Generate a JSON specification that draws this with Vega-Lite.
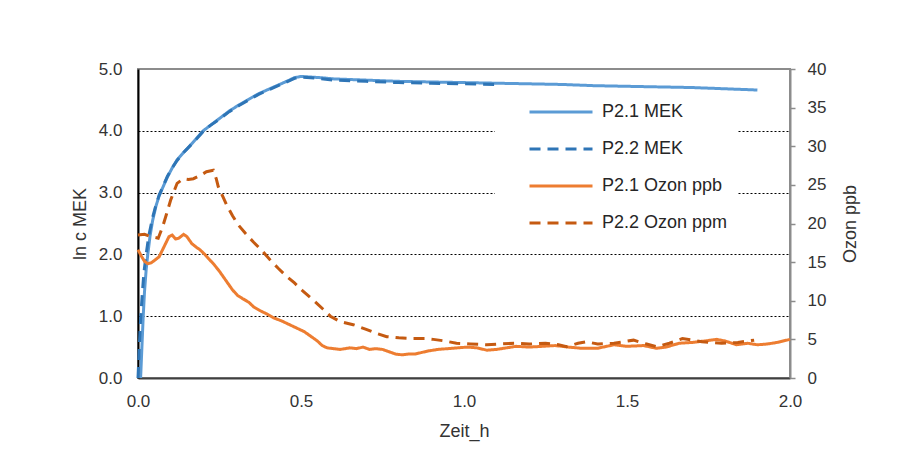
{
  "$schema": "https://vega.github.io/schema/vega-lite/v6.json",
  "autosize": {"type": "none"},
  "width": 652,
  "height": 309,
  "padding": {"left": 138, "top": 69, "right": 112, "bottom": 81},
  "background": "white",
  "config": {
    "font": "Liberation Sans",
    "view": {"stroke": "#8c8c8c", "strokeWidth": 2},
    "axis": {"labelFont": "Liberation Sans", "titleFont": "Liberation Sans", "labelColor": "#333333", "titleColor": "#333333", "titleFontWeight": "normal", "labelFontSize": 17, "titleFontSize": 18},
    "legend": {"labelFont": "Liberation Sans"}
  },
  "datasets": {
    "mek": [
      {"t": 0.008, "v": 0, "s": "P2.1 MEK"},
      {"t": 0.012, "v": 0.5, "s": "P2.1 MEK"},
      {"t": 0.016, "v": 1.0, "s": "P2.1 MEK"},
      {"t": 0.02, "v": 1.4, "s": "P2.1 MEK"},
      {"t": 0.025, "v": 1.75, "s": "P2.1 MEK"},
      {"t": 0.03, "v": 2.0, "s": "P2.1 MEK"},
      {"t": 0.037, "v": 2.3, "s": "P2.1 MEK"},
      {"t": 0.045, "v": 2.55, "s": "P2.1 MEK"},
      {"t": 0.055, "v": 2.78, "s": "P2.1 MEK"},
      {"t": 0.065, "v": 2.95, "s": "P2.1 MEK"},
      {"t": 0.075, "v": 3.07, "s": "P2.1 MEK"},
      {"t": 0.09, "v": 3.25, "s": "P2.1 MEK"},
      {"t": 0.105, "v": 3.4, "s": "P2.1 MEK"},
      {"t": 0.12, "v": 3.53, "s": "P2.1 MEK"},
      {"t": 0.14, "v": 3.65, "s": "P2.1 MEK"},
      {"t": 0.16, "v": 3.76, "s": "P2.1 MEK"},
      {"t": 0.18, "v": 3.88, "s": "P2.1 MEK"},
      {"t": 0.2, "v": 4.0, "s": "P2.1 MEK"},
      {"t": 0.22, "v": 4.08, "s": "P2.1 MEK"},
      {"t": 0.25, "v": 4.2, "s": "P2.1 MEK"},
      {"t": 0.28, "v": 4.32, "s": "P2.1 MEK"},
      {"t": 0.31, "v": 4.42, "s": "P2.1 MEK"},
      {"t": 0.34, "v": 4.51, "s": "P2.1 MEK"},
      {"t": 0.37, "v": 4.6, "s": "P2.1 MEK"},
      {"t": 0.4, "v": 4.67, "s": "P2.1 MEK"},
      {"t": 0.43, "v": 4.74, "s": "P2.1 MEK"},
      {"t": 0.46, "v": 4.81, "s": "P2.1 MEK"},
      {"t": 0.48, "v": 4.86, "s": "P2.1 MEK"},
      {"t": 0.5, "v": 4.88, "s": "P2.1 MEK"},
      {"t": 0.53, "v": 4.87, "s": "P2.1 MEK"},
      {"t": 0.56, "v": 4.86, "s": "P2.1 MEK"},
      {"t": 0.6, "v": 4.84, "s": "P2.1 MEK"},
      {"t": 0.65, "v": 4.83, "s": "P2.1 MEK"},
      {"t": 0.7, "v": 4.82, "s": "P2.1 MEK"},
      {"t": 0.8, "v": 4.8, "s": "P2.1 MEK"},
      {"t": 0.9, "v": 4.79, "s": "P2.1 MEK"},
      {"t": 1.0, "v": 4.78, "s": "P2.1 MEK"},
      {"t": 1.1, "v": 4.77, "s": "P2.1 MEK"},
      {"t": 1.2, "v": 4.76, "s": "P2.1 MEK"},
      {"t": 1.3, "v": 4.75, "s": "P2.1 MEK"},
      {"t": 1.4, "v": 4.73, "s": "P2.1 MEK"},
      {"t": 1.5, "v": 4.72, "s": "P2.1 MEK"},
      {"t": 1.6, "v": 4.71, "s": "P2.1 MEK"},
      {"t": 1.7, "v": 4.7, "s": "P2.1 MEK"},
      {"t": 1.8, "v": 4.68, "s": "P2.1 MEK"},
      {"t": 1.9, "v": 4.66, "s": "P2.1 MEK"},
      {"t": 0.0, "v": 0, "s": "P2.2 MEK"},
      {"t": 0.004, "v": 0.5, "s": "P2.2 MEK"},
      {"t": 0.008, "v": 0.95, "s": "P2.2 MEK"},
      {"t": 0.013, "v": 1.35, "s": "P2.2 MEK"},
      {"t": 0.018, "v": 1.7, "s": "P2.2 MEK"},
      {"t": 0.025, "v": 2.0, "s": "P2.2 MEK"},
      {"t": 0.033, "v": 2.3, "s": "P2.2 MEK"},
      {"t": 0.045, "v": 2.6, "s": "P2.2 MEK"},
      {"t": 0.055, "v": 2.8, "s": "P2.2 MEK"},
      {"t": 0.065, "v": 2.96, "s": "P2.2 MEK"},
      {"t": 0.075, "v": 3.08, "s": "P2.2 MEK"},
      {"t": 0.09, "v": 3.26, "s": "P2.2 MEK"},
      {"t": 0.105, "v": 3.4, "s": "P2.2 MEK"},
      {"t": 0.12, "v": 3.52, "s": "P2.2 MEK"},
      {"t": 0.14, "v": 3.65, "s": "P2.2 MEK"},
      {"t": 0.16, "v": 3.76, "s": "P2.2 MEK"},
      {"t": 0.18, "v": 3.87, "s": "P2.2 MEK"},
      {"t": 0.2, "v": 3.99, "s": "P2.2 MEK"},
      {"t": 0.22, "v": 4.08, "s": "P2.2 MEK"},
      {"t": 0.25, "v": 4.19, "s": "P2.2 MEK"},
      {"t": 0.28, "v": 4.31, "s": "P2.2 MEK"},
      {"t": 0.31, "v": 4.41, "s": "P2.2 MEK"},
      {"t": 0.34, "v": 4.5, "s": "P2.2 MEK"},
      {"t": 0.37, "v": 4.59, "s": "P2.2 MEK"},
      {"t": 0.4, "v": 4.66, "s": "P2.2 MEK"},
      {"t": 0.43, "v": 4.73, "s": "P2.2 MEK"},
      {"t": 0.46, "v": 4.8, "s": "P2.2 MEK"},
      {"t": 0.48, "v": 4.85, "s": "P2.2 MEK"},
      {"t": 0.5, "v": 4.87, "s": "P2.2 MEK"},
      {"t": 0.55, "v": 4.85, "s": "P2.2 MEK"},
      {"t": 0.6, "v": 4.82, "s": "P2.2 MEK"},
      {"t": 0.7, "v": 4.8, "s": "P2.2 MEK"},
      {"t": 0.8, "v": 4.78, "s": "P2.2 MEK"},
      {"t": 0.9, "v": 4.77, "s": "P2.2 MEK"},
      {"t": 1.0, "v": 4.76, "s": "P2.2 MEK"},
      {"t": 1.1, "v": 4.75, "s": "P2.2 MEK"}
    ],
    "ozon": [
      {"t": 0.0, "v": 16.6, "s": "P2.1 Ozon ppb"},
      {"t": 0.01, "v": 15.8, "s": "P2.1 Ozon ppb"},
      {"t": 0.02, "v": 15.1, "s": "P2.1 Ozon ppb"},
      {"t": 0.03, "v": 14.8, "s": "P2.1 Ozon ppb"},
      {"t": 0.04, "v": 14.9, "s": "P2.1 Ozon ppb"},
      {"t": 0.05, "v": 15.2, "s": "P2.1 Ozon ppb"},
      {"t": 0.065, "v": 15.7, "s": "P2.1 Ozon ppb"},
      {"t": 0.08, "v": 17.0, "s": "P2.1 Ozon ppb"},
      {"t": 0.095, "v": 18.3, "s": "P2.1 Ozon ppb"},
      {"t": 0.105, "v": 18.5, "s": "P2.1 Ozon ppb"},
      {"t": 0.115, "v": 18.0, "s": "P2.1 Ozon ppb"},
      {"t": 0.125, "v": 18.1, "s": "P2.1 Ozon ppb"},
      {"t": 0.14, "v": 18.6, "s": "P2.1 Ozon ppb"},
      {"t": 0.15, "v": 18.3, "s": "P2.1 Ozon ppb"},
      {"t": 0.165, "v": 17.4, "s": "P2.1 Ozon ppb"},
      {"t": 0.18, "v": 16.9, "s": "P2.1 Ozon ppb"},
      {"t": 0.19, "v": 16.6, "s": "P2.1 Ozon ppb"},
      {"t": 0.205, "v": 16.0, "s": "P2.1 Ozon ppb"},
      {"t": 0.22, "v": 15.3, "s": "P2.1 Ozon ppb"},
      {"t": 0.235, "v": 14.6, "s": "P2.1 Ozon ppb"},
      {"t": 0.25, "v": 13.8, "s": "P2.1 Ozon ppb"},
      {"t": 0.27, "v": 12.6, "s": "P2.1 Ozon ppb"},
      {"t": 0.29, "v": 11.4, "s": "P2.1 Ozon ppb"},
      {"t": 0.305, "v": 10.7, "s": "P2.1 Ozon ppb"},
      {"t": 0.32, "v": 10.3, "s": "P2.1 Ozon ppb"},
      {"t": 0.34, "v": 9.8, "s": "P2.1 Ozon ppb"},
      {"t": 0.355, "v": 9.2, "s": "P2.1 Ozon ppb"},
      {"t": 0.375, "v": 8.7, "s": "P2.1 Ozon ppb"},
      {"t": 0.395, "v": 8.3, "s": "P2.1 Ozon ppb"},
      {"t": 0.415, "v": 7.8, "s": "P2.1 Ozon ppb"},
      {"t": 0.44, "v": 7.4, "s": "P2.1 Ozon ppb"},
      {"t": 0.465, "v": 6.9, "s": "P2.1 Ozon ppb"},
      {"t": 0.49, "v": 6.4, "s": "P2.1 Ozon ppb"},
      {"t": 0.51, "v": 6.0, "s": "P2.1 Ozon ppb"},
      {"t": 0.53, "v": 5.4, "s": "P2.1 Ozon ppb"},
      {"t": 0.55, "v": 4.8, "s": "P2.1 Ozon ppb"},
      {"t": 0.565, "v": 4.2, "s": "P2.1 Ozon ppb"},
      {"t": 0.58, "v": 3.9, "s": "P2.1 Ozon ppb"},
      {"t": 0.6, "v": 3.8, "s": "P2.1 Ozon ppb"},
      {"t": 0.62, "v": 3.7, "s": "P2.1 Ozon ppb"},
      {"t": 0.65, "v": 3.9, "s": "P2.1 Ozon ppb"},
      {"t": 0.67, "v": 3.8, "s": "P2.1 Ozon ppb"},
      {"t": 0.69, "v": 4.0, "s": "P2.1 Ozon ppb"},
      {"t": 0.71, "v": 3.7, "s": "P2.1 Ozon ppb"},
      {"t": 0.73, "v": 3.8, "s": "P2.1 Ozon ppb"},
      {"t": 0.75, "v": 3.7, "s": "P2.1 Ozon ppb"},
      {"t": 0.77, "v": 3.4, "s": "P2.1 Ozon ppb"},
      {"t": 0.79, "v": 3.1, "s": "P2.1 Ozon ppb"},
      {"t": 0.81, "v": 3.0, "s": "P2.1 Ozon ppb"},
      {"t": 0.83, "v": 3.1, "s": "P2.1 Ozon ppb"},
      {"t": 0.85, "v": 3.1, "s": "P2.1 Ozon ppb"},
      {"t": 0.87, "v": 3.3, "s": "P2.1 Ozon ppb"},
      {"t": 0.89, "v": 3.5, "s": "P2.1 Ozon ppb"},
      {"t": 0.92, "v": 3.7, "s": "P2.1 Ozon ppb"},
      {"t": 0.95, "v": 3.8, "s": "P2.1 Ozon ppb"},
      {"t": 0.98, "v": 3.9, "s": "P2.1 Ozon ppb"},
      {"t": 1.01, "v": 4.0, "s": "P2.1 Ozon ppb"},
      {"t": 1.04, "v": 3.9, "s": "P2.1 Ozon ppb"},
      {"t": 1.07, "v": 3.6, "s": "P2.1 Ozon ppb"},
      {"t": 1.1, "v": 3.7, "s": "P2.1 Ozon ppb"},
      {"t": 1.13, "v": 3.9, "s": "P2.1 Ozon ppb"},
      {"t": 1.16, "v": 4.1, "s": "P2.1 Ozon ppb"},
      {"t": 1.2, "v": 4.0, "s": "P2.1 Ozon ppb"},
      {"t": 1.24, "v": 4.1, "s": "P2.1 Ozon ppb"},
      {"t": 1.28, "v": 4.2, "s": "P2.1 Ozon ppb"},
      {"t": 1.32, "v": 4.0, "s": "P2.1 Ozon ppb"},
      {"t": 1.36, "v": 3.85, "s": "P2.1 Ozon ppb"},
      {"t": 1.41, "v": 3.85, "s": "P2.1 Ozon ppb"},
      {"t": 1.46, "v": 4.3, "s": "P2.1 Ozon ppb"},
      {"t": 1.5, "v": 4.1, "s": "P2.1 Ozon ppb"},
      {"t": 1.55, "v": 4.2, "s": "P2.1 Ozon ppb"},
      {"t": 1.59, "v": 3.85, "s": "P2.1 Ozon ppb"},
      {"t": 1.62, "v": 4.0, "s": "P2.1 Ozon ppb"},
      {"t": 1.66, "v": 4.5, "s": "P2.1 Ozon ppb"},
      {"t": 1.7, "v": 4.6, "s": "P2.1 Ozon ppb"},
      {"t": 1.74, "v": 4.8, "s": "P2.1 Ozon ppb"},
      {"t": 1.775, "v": 5.0, "s": "P2.1 Ozon ppb"},
      {"t": 1.8, "v": 4.8, "s": "P2.1 Ozon ppb"},
      {"t": 1.836, "v": 4.3, "s": "P2.1 Ozon ppb"},
      {"t": 1.87, "v": 4.5, "s": "P2.1 Ozon ppb"},
      {"t": 1.9, "v": 4.3, "s": "P2.1 Ozon ppb"},
      {"t": 1.93, "v": 4.4, "s": "P2.1 Ozon ppb"},
      {"t": 1.96, "v": 4.6, "s": "P2.1 Ozon ppb"},
      {"t": 2.0, "v": 5.0, "s": "P2.1 Ozon ppb"},
      {"t": 0.0, "v": 18.5, "s": "P2.2 Ozon ppm"},
      {"t": 0.02, "v": 18.6, "s": "P2.2 Ozon ppm"},
      {"t": 0.04, "v": 18.3, "s": "P2.2 Ozon ppm"},
      {"t": 0.062, "v": 18.1, "s": "P2.2 Ozon ppm"},
      {"t": 0.075, "v": 19.5, "s": "P2.2 Ozon ppm"},
      {"t": 0.088, "v": 21.3, "s": "P2.2 Ozon ppm"},
      {"t": 0.1, "v": 23.0, "s": "P2.2 Ozon ppm"},
      {"t": 0.108, "v": 23.9, "s": "P2.2 Ozon ppm"},
      {"t": 0.12, "v": 25.2, "s": "P2.2 Ozon ppm"},
      {"t": 0.139, "v": 25.8, "s": "P2.2 Ozon ppm"},
      {"t": 0.155, "v": 25.7, "s": "P2.2 Ozon ppm"},
      {"t": 0.17, "v": 25.8, "s": "P2.2 Ozon ppm"},
      {"t": 0.19, "v": 26.2, "s": "P2.2 Ozon ppm"},
      {"t": 0.21, "v": 26.7, "s": "P2.2 Ozon ppm"},
      {"t": 0.231, "v": 26.9, "s": "P2.2 Ozon ppm"},
      {"t": 0.24, "v": 25.8, "s": "P2.2 Ozon ppm"},
      {"t": 0.246, "v": 24.8, "s": "P2.2 Ozon ppm"},
      {"t": 0.26, "v": 23.5, "s": "P2.2 Ozon ppm"},
      {"t": 0.272, "v": 22.4, "s": "P2.2 Ozon ppm"},
      {"t": 0.29, "v": 21.0, "s": "P2.2 Ozon ppm"},
      {"t": 0.308, "v": 19.8, "s": "P2.2 Ozon ppm"},
      {"t": 0.33, "v": 18.7, "s": "P2.2 Ozon ppm"},
      {"t": 0.354, "v": 17.6, "s": "P2.2 Ozon ppm"},
      {"t": 0.38, "v": 16.5, "s": "P2.2 Ozon ppm"},
      {"t": 0.405, "v": 15.3, "s": "P2.2 Ozon ppm"},
      {"t": 0.43, "v": 14.2, "s": "P2.2 Ozon ppm"},
      {"t": 0.455, "v": 13.2, "s": "P2.2 Ozon ppm"},
      {"t": 0.48, "v": 12.3, "s": "P2.2 Ozon ppm"},
      {"t": 0.507, "v": 11.2, "s": "P2.2 Ozon ppm"},
      {"t": 0.54, "v": 10.0, "s": "P2.2 Ozon ppm"},
      {"t": 0.568, "v": 8.9, "s": "P2.2 Ozon ppm"},
      {"t": 0.59, "v": 8.0, "s": "P2.2 Ozon ppm"},
      {"t": 0.62, "v": 7.3, "s": "P2.2 Ozon ppm"},
      {"t": 0.66, "v": 6.9, "s": "P2.2 Ozon ppm"},
      {"t": 0.7, "v": 6.3, "s": "P2.2 Ozon ppm"},
      {"t": 0.73, "v": 5.8, "s": "P2.2 Ozon ppm"},
      {"t": 0.763, "v": 5.35, "s": "P2.2 Ozon ppm"},
      {"t": 0.8, "v": 5.2, "s": "P2.2 Ozon ppm"},
      {"t": 0.845, "v": 5.1, "s": "P2.2 Ozon ppm"},
      {"t": 0.88, "v": 5.1, "s": "P2.2 Ozon ppm"},
      {"t": 0.906, "v": 5.0, "s": "P2.2 Ozon ppm"},
      {"t": 0.94, "v": 4.8, "s": "P2.2 Ozon ppm"},
      {"t": 0.977, "v": 4.5, "s": "P2.2 Ozon ppm"},
      {"t": 1.02, "v": 4.4, "s": "P2.2 Ozon ppm"},
      {"t": 1.07, "v": 4.3, "s": "P2.2 Ozon ppm"},
      {"t": 1.11, "v": 4.4, "s": "P2.2 Ozon ppm"},
      {"t": 1.16, "v": 4.5, "s": "P2.2 Ozon ppm"},
      {"t": 1.2, "v": 4.4, "s": "P2.2 Ozon ppm"},
      {"t": 1.25, "v": 4.5, "s": "P2.2 Ozon ppm"},
      {"t": 1.29, "v": 4.3, "s": "P2.2 Ozon ppm"},
      {"t": 1.315, "v": 4.05, "s": "P2.2 Ozon ppm"},
      {"t": 1.35, "v": 4.5, "s": "P2.2 Ozon ppm"},
      {"t": 1.375, "v": 4.7, "s": "P2.2 Ozon ppm"},
      {"t": 1.41, "v": 4.4, "s": "P2.2 Ozon ppm"},
      {"t": 1.46, "v": 4.5, "s": "P2.2 Ozon ppm"},
      {"t": 1.52, "v": 4.9, "s": "P2.2 Ozon ppm"},
      {"t": 1.56, "v": 4.4, "s": "P2.2 Ozon ppm"},
      {"t": 1.59, "v": 4.05, "s": "P2.2 Ozon ppm"},
      {"t": 1.63, "v": 4.5, "s": "P2.2 Ozon ppm"},
      {"t": 1.67, "v": 5.1, "s": "P2.2 Ozon ppm"},
      {"t": 1.7, "v": 4.9, "s": "P2.2 Ozon ppm"},
      {"t": 1.73, "v": 4.7, "s": "P2.2 Ozon ppm"},
      {"t": 1.79, "v": 4.5, "s": "P2.2 Ozon ppm"},
      {"t": 1.84, "v": 4.6, "s": "P2.2 Ozon ppm"},
      {"t": 1.89, "v": 4.9, "s": "P2.2 Ozon ppm"}
    ]
  },
  "encoding": {
    "x": {
      "field": "t", "type": "quantitative",
      "scale": {"domain": [0, 2], "nice": false, "zero": false},
      "axis": {
        "title": "Zeit_h", "values": [0, 0.5, 1, 1.5, 2], "format": ".1f",
        "grid": false, "ticks": false, "tickSize": 0, "labelPadding": 15,
        "domainColor": "#404040", "domainWidth": 2, "titlePadding": 13,
        "labelFlush": false
      }
    },
    "color": {
      "field": "s", "type": "nominal",
      "scale": {
        "domain": ["P2.1 MEK", "P2.2 MEK", "P2.1 Ozon ppb", "P2.2 Ozon ppm"],
        "range": ["#5b9bd5", "#2e75b6", "#ed7d31", "#c55a11"]
      },
      "legend": {
        "title": null, "orient": "none", "legendX": 357, "legendY": 24,
        "fillColor": "white", "padding": 10, "strokeColor": null,
        "symbolType": "M3.1,0H15.7", "symbolSize": 100, "symbolStrokeWidth": 3,
        "labelOffset": 79, "labelFontSize": 18, "labelColor": "#262626",
        "rowPadding": 19
      }
    },
    "strokeDash": {
      "field": "s", "type": "nominal",
      "scale": {
        "domain": ["P2.1 MEK", "P2.2 MEK", "P2.1 Ozon ppb", "P2.2 Ozon ppm"],
        "range": [[1, 0], [11, 7], [1, 0], [11, 7]]
      },
      "legend": {
        "title": null, "orient": "none", "legendX": 357, "legendY": 24,
        "fillColor": "white", "padding": 10,
        "symbolType": "M3.1,0H15.7", "symbolSize": 100, "symbolStrokeWidth": 3,
        "labelOffset": 79, "labelFontSize": 18, "labelColor": "#262626",
        "rowPadding": 19
      }
    }
  },
  "layer": [
    {
      "data": {"name": "mek"},
      "mark": {"type": "line", "strokeWidth": 3},
      "encoding": {
        "y": {
          "field": "v", "type": "quantitative",
          "scale": {"domain": [0, 5], "nice": false},
          "axis": {
            "orient": "left", "title": "ln c MEK", "values": [0, 1, 2, 3, 4, 5], "format": ".1f",
            "grid": true,
            "gridColor": {"condition": {"test": "datum.value <= 0 || datum.value >= 5", "value": "transparent"}, "value": "#000000"},
            "gridDash": [2, 2], "gridWidth": 1,
            "ticks": false, "tickSize": 0, "labelPadding": 16,
            "domainColor": "#000000", "domainWidth": 2, "titlePadding": 9
          }
        }
      }
    },
    {
      "data": {"name": "ozon"},
      "mark": {"type": "line", "strokeWidth": 3},
      "encoding": {
        "y": {
          "field": "v", "type": "quantitative",
          "scale": {"domain": [0, 40], "nice": false},
          "axis": {
            "orient": "right", "title": "Ozon ppb", "values": [0, 5, 10, 15, 20, 25, 30, 35, 40], "format": "d",
            "grid": false, "ticks": true, "tickSize": 5, "tickColor": "#8c8c8c", "tickWidth": 1.5,
            "labelPadding": 12, "domainColor": "#8c8c8c", "domainWidth": 2,
            "titleAngle": 270, "titlePadding": 34
          }
        }
      }
    }
  ],
  "resolve": {"scale": {"y": "independent"}, "axis": {"y": "independent"}}
}
